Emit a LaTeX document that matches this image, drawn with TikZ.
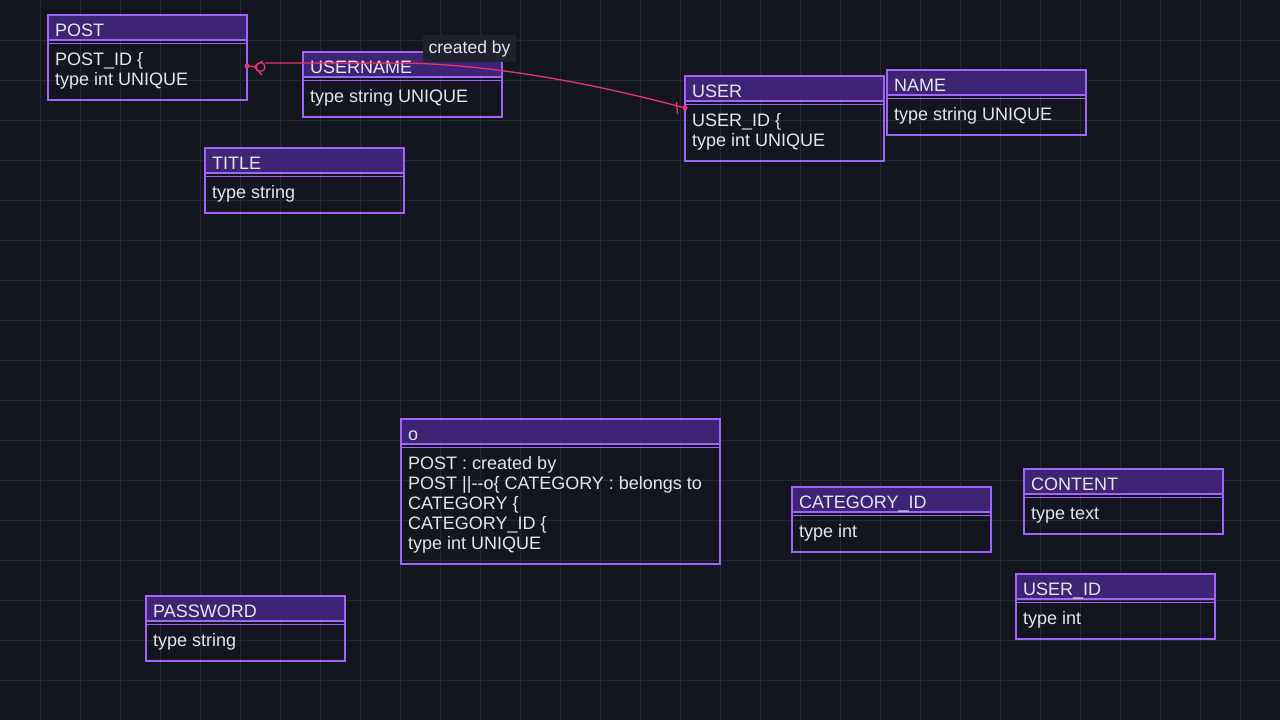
\documentclass[tikz,border=0pt]{standalone}
\usepackage{fontspec}
\setmainfont{Liberation Sans}
\usetikzlibrary{calc}
\definecolor{bgc}{HTML}{13161F}
\definecolor{gridc}{HTML}{252835}
\definecolor{framec}{HTML}{A066F7}
\definecolor{hdrc}{HTML}{3E2475}
\definecolor{txtc}{HTML}{E6E6EA}
\definecolor{relc}{HTML}{E8336D}
\definecolor{lblc}{HTML}{1F222D}
\tikzset{
  frame/.style={draw=framec, line width=2pt, inner sep=0pt, outer sep=0pt},
  hdrline/.style={draw=framec, line width=2pt},
  hdrlinetwo/.style={draw=framec, line width=1.2pt},
  ttl/.style={text=txtc, font=\fontsize{18}{20}\selectfont, inner sep=0pt, anchor=base west},
  bdy/.style={text=txtc, font=\fontsize{18}{20}\selectfont, inner sep=0pt, anchor=base west},
  gridl/.style={draw=gridc, line width=1pt},
  rel/.style={draw=relc, line width=1.3pt},
  lbl/.style={fill=lblc, text=txtc, font=\fontsize{17.5}{20}\selectfont, minimum width=93, minimum height=27, inner sep=0pt}
}
\newcommand\erent[7]{%
  \fill[hdrc] (#2,#3) rectangle ++(#4-1,25);
  \node[frame, minimum width={#4-1}, minimum height={45+20*#5}, anchor=north west] (#1) at (#2,#3) {};
  \draw[hdrline] ([yshift=-25pt]#1.north west) -- ([yshift=-25pt]#1.north east);
  \draw[hdrlinetwo] ([yshift=-28.5pt]#1.north west) -- ([yshift=-28.5pt]#1.north east);
  \node[ttl] (#1-t) at (#2+7,#3+21.5) {#6};
  \node[bdy] (#1-b) at (#2+7,#3+50) {\begin{tabular}[t]{@{}l@{}}#7\end{tabular}};
}
\begin{document}
\begin{tikzpicture}[x=1pt,y=-1pt]
\fill[bgc] (0,0) rectangle (1280,720);
\useasboundingbox (0,0) rectangle (1280,720);
\foreach \i in {40,80,...,1240} \draw[gridl] (\i,0) -- (\i,720);
\foreach \j in {40,80,...,680} \draw[gridl] (0,\j) -- (1280,\j);

\erent{post}{48}{15}{200}{2}{POST}{POST\_ID \{\\type int UNIQUE}
\erent{username}{303}{52}{200}{1}{USERNAME}{type string UNIQUE}
\erent{title}{205}{148}{200}{1}{TITLE}{type string}
\erent{user}{685}{76}{200}{2}{USER}{USER\_ID \{\\type int UNIQUE}
\erent{name}{887}{70}{200}{1}{NAME}{type string UNIQUE}
\erent{o}{401}{419}{320}{5}{o}{POST : created by\\POST ||-{}-o\{ CATEGORY : belongs to\\CATEGORY \{\\CATEGORY\_ID \{\\type int UNIQUE}
\erent{catid}{792}{487}{200}{1}{CATEGORY\_ID}{type int}
\erent{content}{1024}{469}{200}{1}{CONTENT}{type text}
\erent{userid}{1016}{574}{200}{1}{USER\_ID}{type int}
\erent{password}{146}{596}{200}{1}{PASSWORD}{type string}

% relationship POST }o--|| USER
\coordinate (pe) at ([yshift=-51pt]post.north east);
\coordinate (ue) at ([yshift=-32pt]user.north west);
\fill[relc] (pe) circle (2.5);
\draw[rel] (pe) -- ($(pe)+(7,0.5)$);
\draw[rel] ($(pe)+(16,-5)$) -- ($(pe)+(7,0.5)$) -- ($(pe)+(15,9)$);
\draw[rel] ($(pe)+(13.5,1)$) circle (4.5);
\draw[rel] ($(pe)+(18,-3)$) -- ($(pe)+(153,-3)$) .. controls ($(pe)+(253,-2)$) and ($(ue)+(-74,-20)$) .. (ue);
\draw[rel] ($(ue)+(-8.5,-6)$) -- ($(ue)+(-7.5,6)$);
\fill[relc] (ue) circle (2.5);

\node[lbl] (cb) at (469.5,48.5) {created by};
\end{tikzpicture}
\end{document}
